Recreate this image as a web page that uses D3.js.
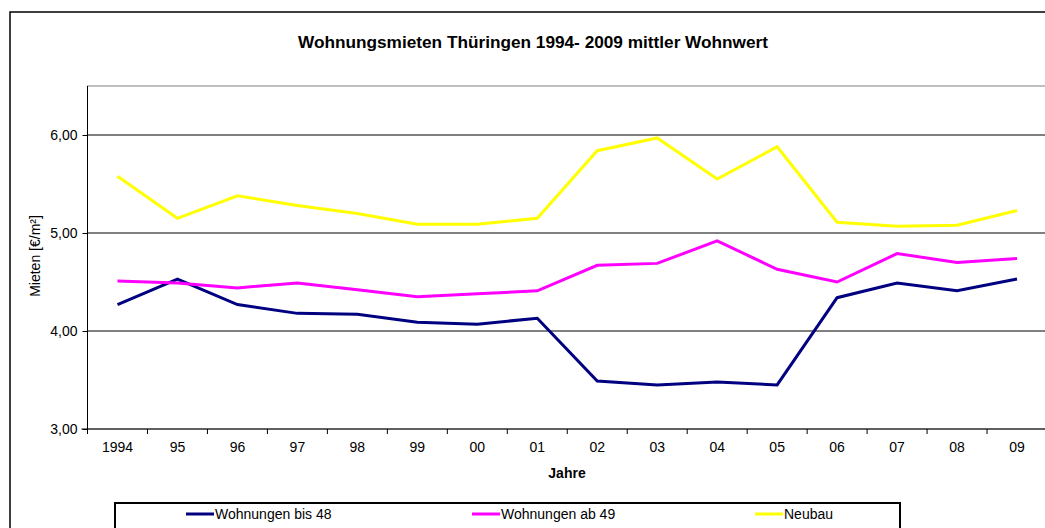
<!DOCTYPE html>
<html><head><meta charset="utf-8">
<script src="https://cdn.jsdelivr.net/npm/d3@7"></script>
<style>body{margin:0;background:#fff;}svg{display:block;font-family:"Liberation Sans",Arial,sans-serif;}</style>
</head><body>
<svg id="c" width="1045" height="528"></svg>
<script>
const categories = ["1994","95","96","97","98","99","00","01","02","03","04","05","06","07","08","09"];
const bis48 = [4.27,4.53,4.27,4.18,4.17,4.09,4.07,4.13,3.49,3.45,3.48,3.45,4.34,4.49,4.41,4.53];
const ab49  = [4.51,4.49,4.44,4.49,4.42,4.35,4.38,4.41,4.67,4.69,4.92,4.63,4.50,4.79,4.70,4.74];
const neubau= [5.58,5.15,5.38,5.28,5.20,5.09,5.09,5.15,5.84,5.97,5.55,5.88,5.11,5.07,5.08,5.23];
const seriesNames = ["Wohnungen bis 48","Wohnungen ab 49","Neubau"];
const seriesColors = ["#000080","#FF00FF","#FFFF00"];
const yTicks = [3,4,5,6];

const svg = d3.select("#c");
const pL = 87.5, pR = 1047, pT = 86, pB = 429;
const fs = 14;

// outer chart border
svg.append("rect").attr("x",10).attr("y",12).attr("width",1045).attr("height",530)
  .attr("fill","none").attr("stroke","#000").attr("stroke-width",1.5);

svg.append("text").attr("x",533).attr("y",48).attr("text-anchor","middle")
  .attr("font-size",16).attr("font-weight","bold")
  .attr("textLength",470).attr("lengthAdjust","spacingAndGlyphs")
  .text("Wohnungsmieten Thüringen 1994- 2009 mittler Wohnwert");

const x = d3.scaleBand().domain(categories).range([pL, pR]);
const y = d3.scaleLinear().domain([3,6.5]).range([pB, pT]);

// plot area border
svg.append("rect").attr("x",pL).attr("y",pT).attr("width",pR-pL).attr("height",pB-pT)
  .attr("fill","none").attr("stroke","#808080").attr("stroke-width",1);

// gridlines
svg.append("g").selectAll("line").data(yTicks.filter(d=>d>3)).join("line")
  .attr("x1",pL).attr("x2",pR).attr("y1",d=>y(d)).attr("y2",d=>y(d))
  .attr("stroke","#000").attr("stroke-width",1);

// y axis
const yAxis = svg.append("g").attr("transform",`translate(${pL},0)`)
  .call(d3.axisLeft(y).tickValues(yTicks).tickSize(5).tickPadding(5).tickFormat(d=>d3.format(".2f")(d).replace(".",",")));
yAxis.select(".domain").attr("stroke","#000").attr("d",`M0,${pT}V${pB}`);
yAxis.selectAll("text").attr("font-size",fs).attr("font-family","Liberation Sans, Arial").attr("fill","#000");

// x axis
const xAxis = svg.append("g").attr("transform",`translate(0,${pB})`)
  .call(d3.axisBottom(x).tickSize(0).tickPadding(13));
xAxis.select(".domain").attr("stroke","#000").attr("d",`M${pL-6},0H${pR}`);
xAxis.selectAll("text").attr("font-size",fs).attr("font-family","Liberation Sans, Arial").attr("fill","#000");
// category separator ticks
svg.append("g").selectAll("line").data(categories).join("line")
  .attr("x1",d=>x(d)).attr("x2",d=>x(d)).attr("y1",pB).attr("y2",pB+5)
  .attr("stroke","#000");

svg.append("text").attr("x",567).attr("y",478).attr("text-anchor","middle")
  .attr("font-size",fs).attr("font-weight","bold").text("Jahre");

svg.append("text").attr("transform","translate(40,256) rotate(-90)").attr("text-anchor","middle")
  .attr("font-size",fs).text("Mieten [€/m²]");

// lines
const line = d3.line().x((d,i)=>x(categories[i])+x.bandwidth()/2).y(d=>y(d));
[bis48, ab49, neubau].forEach((s,i)=>{
  svg.append("path").datum(s).attr("d",line).attr("fill","none")
    .attr("stroke",seriesColors[i]).attr("stroke-width",3).attr("stroke-linejoin","miter");
});

// legend
svg.append("rect").attr("x",115).attr("y",503).attr("width",785).attr("height",40)
  .attr("fill","#fff").attr("stroke","#000").attr("stroke-width",2);
const legX = [186, 472, 755];
seriesNames.forEach((n,i)=>{
  svg.append("line").attr("x1",legX[i]).attr("x2",legX[i]+28).attr("y1",514).attr("y2",514)
    .attr("stroke",seriesColors[i]).attr("stroke-width",3);
  svg.append("text").attr("x",legX[i]+29).attr("y",519).attr("font-size",fs).text(n);
});
</script>
</body></html>
